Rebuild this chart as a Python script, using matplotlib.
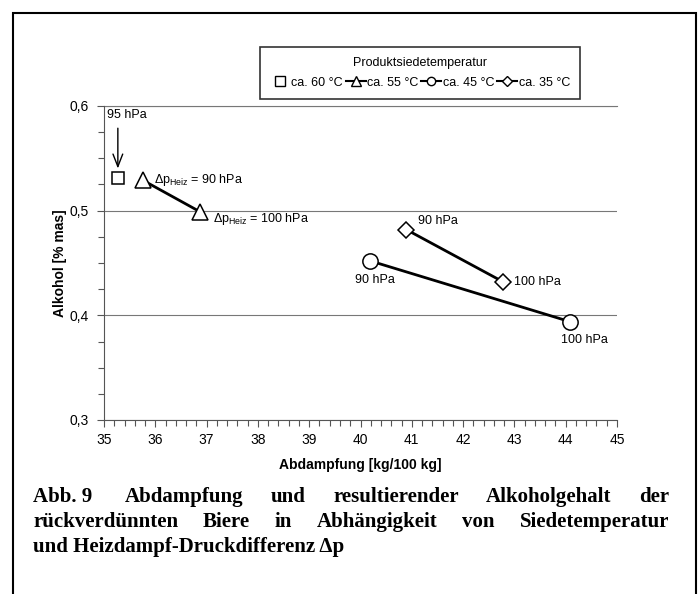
import numpy as np
import matplotlib
matplotlib.use('Agg')
import matplotlib.pyplot as plt
from matplotlib.patches import Rectangle
from matplotlib.lines import Line2D
from matplotlib.ticker import MultipleLocator, FuncFormatter

plt.rcParams['font.family'] = ['Liberation Sans', 'DejaVu Sans']
plt.rcParams['mathtext.fontset'] = 'custom'
plt.rcParams['mathtext.rm'] = 'Liberation Sans'

# data
sq_x = [35.27]
sq_y = [0.531]
tri_x = [35.76, 36.87]
tri_y = [0.529, 0.499]
circ_x = [40.19, 44.08]
circ_y = [0.452, 0.394]
dia_x = [40.89, 42.78]
dia_y = [0.482, 0.432]
series_labels = ['ca. 60 °C', 'ca. 55 °C', 'ca. 45 °C', 'ca. 35 °C']
legend_title = 'Produktsiedetemperatur'
caption = [
    'Abb.\u00a09\u00a0 Abdampfung und resultierender Alkoholgehalt der',
    'rückverdünnten Biere in Abhängigkeit von Siedetemperatur',
    'und Heizdampf-Druckdifferenz \u0394p',
]

fig = plt.figure(figsize=(6.99, 5.94), dpi=100)
ax = fig.add_axes([104/699, 1-420/594, 513/699, 314/594])

mk = dict(color='black', mfc='white', mec='black', mew=1.1, lw=2)
ax.plot(sq_x, sq_y, ls='none', marker='s', ms=9, color='black', mfc='white', mec='black', mew=1.1)
ax.plot(tri_x, tri_y, marker='^', ms=12, **mk)
ax.plot(circ_x, circ_y, marker='o', ms=11, **mk)
ax.plot(dia_x, dia_y, marker='D', ms=8, **mk)

ax.set_xlim(35, 45)
ax.set_ylim(0.3, 0.6)
ax.xaxis.set_major_locator(MultipleLocator(1))
ax.xaxis.set_minor_locator(MultipleLocator(0.2))
ax.yaxis.set_major_locator(MultipleLocator(0.1))
ax.yaxis.set_minor_locator(MultipleLocator(0.025))
ax.yaxis.set_major_formatter(FuncFormatter(lambda v, p: f'{v:.1f}'.replace('.', ',')))
ax.tick_params(which='major', length=5, width=0.8, color='#555555', labelsize=10, pad=6)
ax.tick_params(which='minor', length=4, width=0.8, color='#555555')
ax.tick_params(axis='x', pad=4)
ax.grid(axis='y', which='major', color='#777777', lw=0.8)
ax.set_axisbelow(True)
for s in ['top', 'right']:
    ax.spines[s].set_visible(False)
for s in ['left', 'bottom']:
    ax.spines[s].set_color('#555555')
    ax.spines[s].set_linewidth(0.8)
ax.axhline(0.6, color='#777777', lw=0.8, clip_on=False)

ax.set_xlabel('Abdampfung [kg/100 kg]', fontsize=10, fontweight='bold', labelpad=8)
ax.set_ylabel('Alkohol [% mas]', fontsize=10, fontweight='bold', labelpad=2)

# annotations
fs = 9
ax.annotate('', xy=(sq_x[0], sq_y[0]), xytext=(0, 50), textcoords='offset pixels',
            arrowprops=dict(arrowstyle='->,head_length=0.9,head_width=0.35', color='black',
                            lw=1, shrinkA=0, shrinkB=7))
ax.annotate('95 hPa', xy=(sq_x[0], sq_y[0]), xytext=(9, 63), textcoords='offset pixels',
            ha='center', va='center', fontsize=fs)
ax.annotate('\u0394p$_\\mathregular{Heiz}$ = 90 hPa', xy=(tri_x[0], tri_y[0]), xytext=(11, 0),
            textcoords='offset pixels', ha='left', va='center', fontsize=fs)
ax.annotate('\u0394p$_\\mathregular{Heiz}$ = 100 hPa', xy=(tri_x[1], tri_y[1]), xytext=(13, -7),
            textcoords='offset pixels', ha='left', va='center', fontsize=fs)
ax.annotate('90 hPa', xy=(circ_x[0], circ_y[0]), xytext=(5, -19),
            textcoords='offset pixels', ha='center', va='center', fontsize=fs)
ax.annotate('100 hPa', xy=(circ_x[1], circ_y[1]), xytext=(15, -18),
            textcoords='offset pixels', ha='center', va='center', fontsize=fs)
ax.annotate('90 hPa', xy=(dia_x[0], dia_y[0]), xytext=(32, 9),
            textcoords='offset pixels', ha='center', va='center', fontsize=fs)
ax.annotate('100 hPa', xy=(dia_x[1], dia_y[1]), xytext=(34, 0),
            textcoords='offset pixels', ha='center', va='center', fontsize=fs)

# legend
handles = [
    Line2D([], [], ls='none', marker='s', ms=7, mfc='white', mec='black'),
    Line2D([], [], color='black', lw=1.5, marker='^', ms=7, mfc='white', mec='black'),
    Line2D([], [], color='black', lw=1.5, marker='o', ms=6, mfc='white', mec='black'),
    Line2D([], [], color='black', lw=1.5, marker='D', ms=5, mfc='white', mec='black'),
]
leg = fig.legend(handles, series_labels, title=legend_title, ncol=4, loc='upper center',
                 bbox_to_anchor=(420/699, 1-47/594), fontsize=9, title_fontsize=9,
                 frameon=True, fancybox=False, edgecolor='black', handlelength=1.6,
                 handletextpad=0.15, columnspacing=0.2, borderpad=0.8, labelspacing=0.6,
                 borderaxespad=0)
leg.get_frame().set_linewidth(1.2)

# outer border
fig.patches.append(Rectangle((13/699, -0.02), 683/699, 1-13/594+0.02, transform=fig.transFigure,
                             fill=False, edgecolor='black', lw=1.5))

# justified caption
renderer = fig.canvas.get_renderer()
x_left, x_right = 33, 669
line_y = [497, 522, 547]
cap_font = dict(family='Liberation Serif', fontweight='bold', fontsize=15)
for i, line in enumerate(caption):
    if i < len(caption) - 1:
        words = [w for w in line.split(' ') if w]
        texts = [fig.text(0, 0, w, ha='left', va='center', **cap_font) for w in words]
        widths = [t.get_window_extent(renderer).width for t in texts]
        gap = (x_right - x_left - sum(widths)) / (len(words) - 1)
        x = x_left
        for t, w in zip(texts, widths):
            t.set_position((x/699, 1 - line_y[i]/594))
            x += w + gap
    else:
        fig.text(x_left/699, 1 - line_y[i]/594, line, ha='left', va='center', **cap_font)

fig.savefig('out.png', dpi=100)
